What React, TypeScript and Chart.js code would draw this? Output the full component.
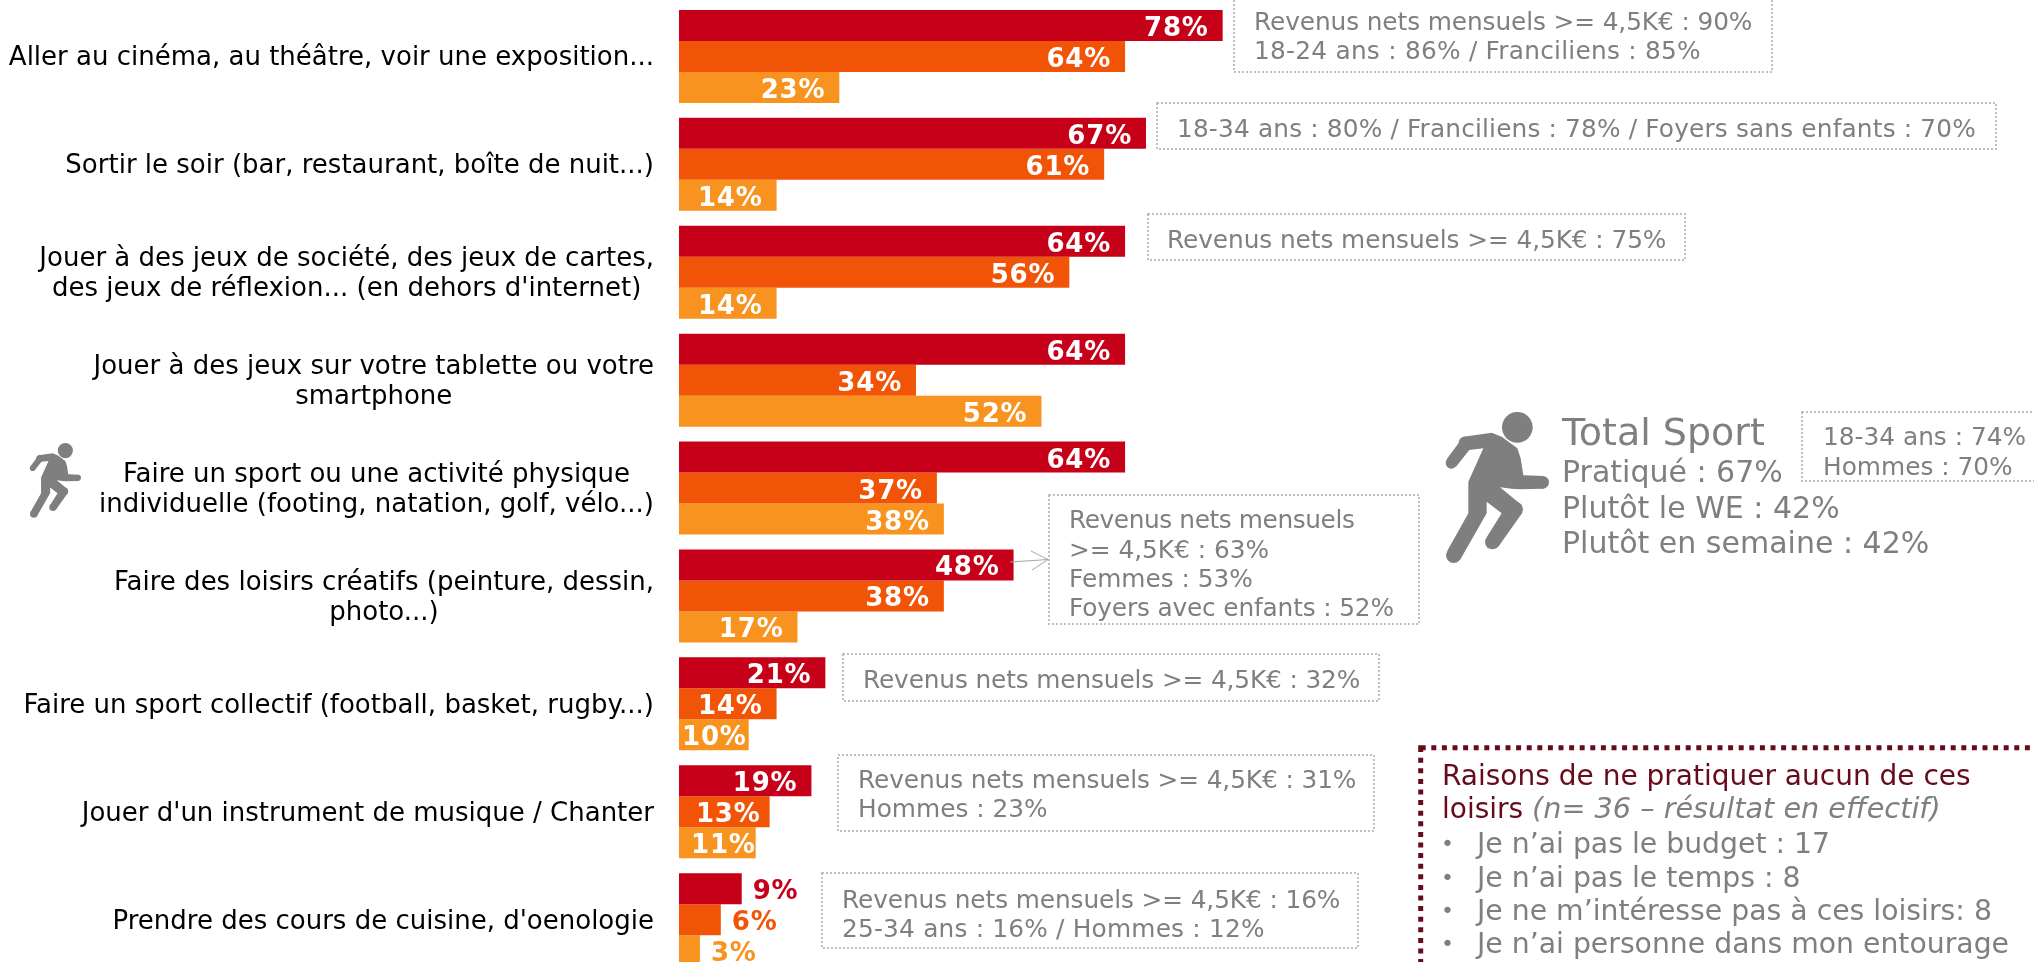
import React, { useEffect, useRef } from "react";
import { Chart, registerables } from "chart.js";

Chart.register(...registerables);

const categories: string[][] = [
  ["Aller au cinéma, au théâtre, voir une exposition..."],
  ["Sortir le soir (bar, restaurant, boîte de nuit...)"],
  ["Jouer à des jeux de société, des jeux de cartes,", "des jeux de réflexion... (en dehors d'internet)"],
  ["Jouer à des jeux sur votre tablette ou votre", "smartphone"],
  ["Faire un sport ou une activité physique", "individuelle (footing, natation, golf, vélo...)"],
  ["Faire des loisirs créatifs (peinture, dessin,", "photo...)"],
  ["Faire un sport collectif (football, basket, rugby...)"],
  ["Jouer d'un instrument de musique / Chanter"],
  ["Prendre des cours de cuisine, d'oenologie"],
];
const seriesA = [78, 67, 64, 64, 64, 48, 21, 19, 9];
const seriesB = [64, 61, 56, 34, 37, 38, 14, 13, 6];
const seriesC = [23, 14, 14, 52, 38, 17, 10, 11, 3];

const RED = "#C50018";
const ORANGE = "#F25407";
const AMBER = "#F7931E";
const GREY = "#7F7F7F";
const MAROON = "#660B1C";
const FONT = '"DejaVu Sans"';

const W = 2034;
const H = 962;
const CANVAS_H = 976;
const AXIS_LEFT = 679;
const PX_PER_UNIT = 6.97;
const LABEL_RIGHT = 654;

// Inset of the value label from the bar end, for the few narrow bars that differ from the default.
const DEFAULT_INSET = 14;
const insets: Record<string, number> = { "1-7": 9, "2-6": 2, "2-7": 0 };

type Box = { x: number; y: number; w: number; h: number };
const noteBoxes: Box[] = [
  { x: 1234, y: -2, w: 538, h: 74 },
  { x: 1157, y: 103, w: 839, h: 46 },
  { x: 1148, y: 214, w: 537, h: 46 },
  { x: 1049, y: 495, w: 370, h: 129 },
  { x: 1802, y: 412, w: 240, h: 69 },
  { x: 843, y: 654, w: 536, h: 47 },
  { x: 838, y: 755, w: 536, h: 76 },
  { x: 822, y: 873, w: 536, h: 75 },
];

type Note = { t: string; x: number; y: number; ls?: number };
const notes: Note[] = [
  { t: "Revenus nets mensuels >= 4,5K€ : 90%", x: 1254, y: 30, ls: -0.1 },
  { t: "18-24 ans : 86% / Franciliens : 85%", x: 1254, y: 59, ls: 0.25 },
  { t: "18-34 ans : 80% / Franciliens : 78% / Foyers sans enfants : 70%", x: 1177, y: 137, ls: 0.16 },
  { t: "Revenus nets mensuels >= 4,5K€ : 75%", x: 1167, y: 248, ls: -0.07 },
  { t: "Revenus nets mensuels", x: 1069, y: 528, ls: -0.4 },
  { t: ">= 4,5K€ : 63%", x: 1069, y: 558 },
  { t: "Femmes : 53%", x: 1069, y: 587 },
  { t: "Foyers avec enfants : 52%", x: 1069, y: 616, ls: -0.15 },
  { t: "18-34 ans : 74%", x: 1823, y: 445 },
  { t: "Hommes : 70%", x: 1823, y: 475 },
  { t: "Revenus nets mensuels >= 4,5K€ : 32%", x: 863, y: 688, ls: -0.13 },
  { t: "Revenus nets mensuels >= 4,5K€ : 31%", x: 858, y: 788, ls: -0.1 },
  { t: "Hommes : 23%", x: 858, y: 817 },
  { t: "Revenus nets mensuels >= 4,5K€ : 16%", x: 842, y: 908, ls: -0.1 },
  { t: "25-34 ans : 16% / Hommes : 12%", x: 842, y: 937, ls: 0.2 },
];

const sportTitle = "Total Sport";
const sportLines = ["Pratiqué : 67%", "Plutôt le WE : 42%", "Plutôt en semaine : 42%"];
const reasonsTitle = "Raisons de ne pratiquer aucun de ces";
const reasonsTitle2 = "loisirs ";
const reasonsNote = "(n= 36 – résultat en effectif)";
const reasons = [
  "Je n’ai pas le budget : 17",
  "Je n’ai pas le temps : 8",
  "Je ne m’intéresse pas à ces loisirs: 8",
  "Je n’ai personne dans mon entourage",
];

// Runner pictogram, in its own drawing units (3 units = 1px at full size).
const runnerOutline: [number, number][] = [
  [100, 110], [185, 98], [215, 110], [262, 145], [272, 175], [280, 226], [340, 228],
  [340, 266], [270, 268], [245, 266], [210, 262], [275, 315], [276, 340], [205, 440],
  [170, 412], [215, 340], [170, 305], [170, 340], [90, 480], [52, 452], [115, 340],
  [115, 245], [160, 145], [118, 150], [78, 200], [50, 178],
];
const runnerJoints: [number, number, number][] = [
  [262, 82, 46],
  [338, 247, 19],
  [187, 426, 22],
  [71, 466, 23],
  [64, 189, 17],
  [256, 328, 23],
  [104, 128, 18],
];

function drawRunner(ctx: CanvasRenderingContext2D, x: number, y: number, s: number) {
  ctx.save();
  ctx.translate(x, y);
  ctx.scale(s / 3, s / 3);
  ctx.translate(-48, -36);
  ctx.fillStyle = GREY;
  ctx.beginPath();
  runnerOutline.forEach(([px, py], i) => (i ? ctx.lineTo(px, py) : ctx.moveTo(px, py)));
  ctx.closePath();
  ctx.fill();
  runnerJoints.forEach(([cx, cy, r]) => {
    ctx.beginPath();
    ctx.arc(cx, cy, r, 0, Math.PI * 2);
    ctx.fill();
  });
  ctx.restore();
}

const valueLabelsPlugin = {
  id: "valueLabels",
  afterDatasetsDraw(chart: any) {
    const { ctx } = chart;
    ctx.save();
    ctx.font = `bold 26px ${FONT}`;
    (ctx as any).letterSpacing = "0.8px";
    ctx.textBaseline = "alphabetic";
    chart.data.datasets.forEach((ds: any, di: number) => {
      chart.getDatasetMeta(di).data.forEach((bar: any, i: number) => {
        const v = ds.data[i];
        const text = `${v}%`;
        const w = ctx.measureText(text).width;
        ctx.textAlign = "left";
        if (v < 10) {
          ctx.fillStyle = ds.backgroundColor;
          ctx.fillText(text, bar.x + 11, bar.y + 10.5);
        } else {
          const inset = insets[`${di}-${i}`] ?? DEFAULT_INSET;
          ctx.fillStyle = "#FFFFFF";
          ctx.fillText(text, bar.x - inset - w, bar.y + 10.5);
        }
      });
    });
    ctx.restore();
  },
};

const categoryLabelsPlugin = {
  id: "categoryLabels",
  afterDraw(chart: any) {
    const { ctx } = chart;
    const y = chart.scales.y;
    ctx.save();
    ctx.font = `26px ${FONT}`;
    ctx.fillStyle = "#000000";
    ctx.textAlign = "center";
    ctx.textBaseline = "alphabetic";
    categories.forEach((lines, i) => {
      const cy = y.getPixelForValue(i);
      const maxW = Math.max(...lines.map((l) => ctx.measureText(l).width));
      const cx = LABEL_RIGHT - maxW / 2;
      lines.forEach((l, k) => {
        ctx.fillText(l, cx, cy + 9 + (k - (lines.length - 1) / 2) * 30);
      });
    });
    ctx.restore();
  },
};

const notesPlugin = {
  id: "notes",
  afterDraw(chart: any) {
    const { ctx } = chart;
    ctx.save();
    // grey dotted note frames
    ctx.strokeStyle = "#BFBFBF";
    ctx.lineWidth = 2;
    ctx.setLineDash([2, 2]);
    noteBoxes.forEach((b) => ctx.strokeRect(b.x, b.y, b.w, b.h));
    ctx.setLineDash([]);

    // arrow to the creative-hobbies note
    ctx.strokeStyle = "#A6A6A6";
    ctx.lineWidth = 1;
    ctx.beginPath();
    ctx.moveTo(1010, 562);
    ctx.lineTo(1048, 559.5);
    ctx.moveTo(1031, 551);
    ctx.lineTo(1048, 559.5);
    ctx.lineTo(1032, 570);
    ctx.stroke();

    ctx.textAlign = "left";
    ctx.textBaseline = "alphabetic";
    ctx.fillStyle = GREY;
    ctx.font = `24.8px ${FONT}`;
    notes.forEach((n) => {
      (ctx as any).letterSpacing = `${n.ls ?? 0}px`;
      ctx.fillText(n.t, n.x, n.y);
    });
    (ctx as any).letterSpacing = "0px";

    // total sport block
    ctx.font = `38px ${FONT}`;
    ctx.fillText(sportTitle, 1562, 445);
    ctx.font = `30px ${FONT}`;
    sportLines.forEach((l, i) => ctx.fillText(l, 1562, [482, 518, 553][i]));
    drawRunner(ctx, 1446, 412, 1);
    drawRunner(ctx, 30, 443, 0.495);

    // reasons block
    ctx.strokeStyle = MAROON;
    ctx.lineWidth = 5;
    ctx.setLineDash([5, 5.6]);
    ctx.strokeRect(1420.7, 747.7, 800, 400);
    ctx.setLineDash([]);
    ctx.fillStyle = MAROON;
    ctx.font = `28px ${FONT}`;
    ctx.fillText(reasonsTitle, 1442, 785);
    ctx.fillText(reasonsTitle2, 1442, 818);
    const w = ctx.measureText(reasonsTitle2).width;
    ctx.fillStyle = GREY;
    ctx.font = `italic 28.7px ${FONT}`;
    ctx.fillText(reasonsNote, 1442 + w, 818);
    reasons.forEach((r, i) => {
      const by = [853, 887, 920, 953][i];
      ctx.font = `22px ${FONT}`;
      ctx.fillText("•", 1441, by - 2);
      ctx.font = `28.3px ${FONT}`;
      ctx.fillText(r, 1477, by);
    });
    ctx.restore();
  },
};

export default function App() {
  const ref = useRef<HTMLCanvasElement>(null);
  useEffect(() => {
    const chart = new Chart(ref.current!, {
      type: "bar",
      data: {
        labels: categories.map((c) => c.join(" ")),
        datasets: [
          { data: seriesA, backgroundColor: RED },
          { data: seriesB, backgroundColor: ORANGE },
          { data: seriesC, backgroundColor: AMBER },
        ],
      },
      options: {
        indexAxis: "y",
        responsive: false,
        animation: false,
        maintainAspectRatio: false,
        layout: { padding: { top: 2.5, bottom: 2.4, right: W - AXIS_LEFT - 100 * PX_PER_UNIT, left: 0 } },
        datasets: { bar: { categoryPercentage: 0.862, barPercentage: 1, borderWidth: 0 } },
        plugins: { legend: { display: false }, tooltip: { enabled: false }, title: { display: false } },
        scales: {
          x: { display: false, min: 0, max: 100 },
          y: {
            position: "left",
            grid: { display: false },
            border: { display: false },
            ticks: { display: false },
            afterFit: (s: any) => {
              s.width = AXIS_LEFT;
            },
          },
        },
      },
      plugins: [valueLabelsPlugin, categoryLabelsPlugin, notesPlugin],
    } as any);
    return () => chart.destroy();
  }, []);
  return (
    <div style={{ position: "fixed", left: 0, top: 0, width: W, height: H, overflow: "hidden", background: "#fff" }}>
      <canvas ref={ref} width={W} height={CANVAS_H} style={{ display: "block", width: W, height: CANVAS_H }} />
    </div>
  );
}
